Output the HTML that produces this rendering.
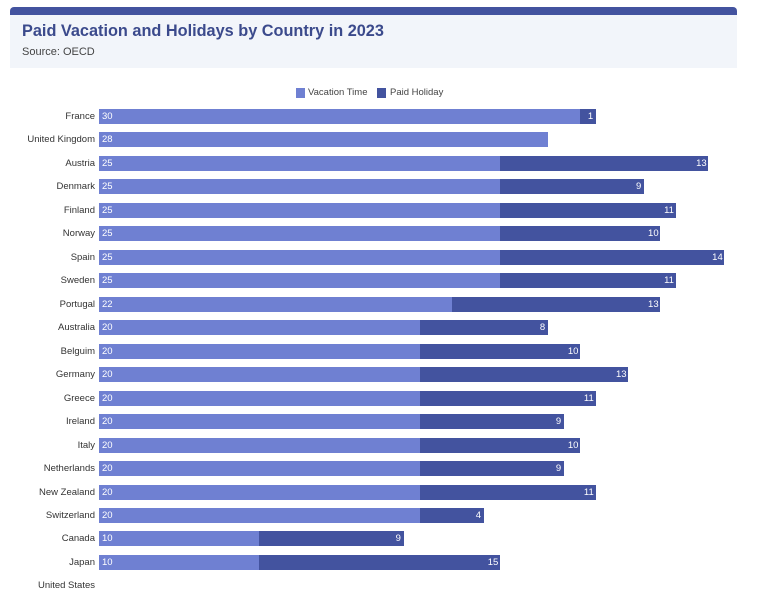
<!DOCTYPE html>
<html><head><style>
body{margin:0;width:768px;height:599px;background:#fff;font-family:"Liberation Sans",sans-serif;position:relative;overflow:hidden}
.a{position:absolute}
.lab{position:absolute;right:673px;font-size:9.5px;color:#333;white-space:nowrap;line-height:15px}
.v{position:absolute;height:15px;background:#6f80d2}
.h{position:absolute;height:15px;background:#43539f}
.n{position:absolute;color:#fff;font-size:9.5px;line-height:15px}
</style></head><body>
<div class="a" style="left:10px;top:7px;width:727px;height:61px;background:#f2f5fa;border-radius:4px 4px 0 0"></div>
<div class="a" style="left:10px;top:7px;width:727px;height:8px;background:#43539f;border-radius:4px 4px 0 0"></div>
<div class="a" style="left:22px;top:22px;font-size:16.3px;font-weight:bold;color:#3b4a8c">Paid Vacation and Holidays by Country in 2023</div>
<div class="a" style="left:22px;top:46px;font-size:11px;color:#444">Source: OECD</div>
<div class="a" style="left:296px;top:88px;width:9px;height:10px;background:#6f80d2"></div>
<div class="a" style="left:308px;top:87px;font-size:9.5px;color:#444">Vacation Time</div>
<div class="a" style="left:377px;top:88px;width:9px;height:10px;background:#43539f"></div>
<div class="a" style="left:390px;top:87px;font-size:9.5px;color:#444">Paid Holiday</div>
<div id="c"></div>
<script>
var d=[["France",30,1],["United Kingdom",28,0],["Austria",25,13],["Denmark",25,9],["Finland",25,11],["Norway",25,10],["Spain",25,14],["Sweden",25,11],["Portugal",22,13],["Australia",20,8],["Belguim",20,10],["Germany",20,13],["Greece",20,11],["Ireland",20,9],["Italy",20,10],["Netherlands",20,9],["New Zealand",20,11],["Switzerland",20,4],["Canada",10,9],["Japan",10,15],["United States",0,0]];
var s=16.03,x0=99,h="";
d.forEach(function(r,i){var y=109+i*23.47;
h+='<div class="lab" style="top:'+y+'px">'+r[0]+'</div>';
if(r[1]){h+='<div class="v" style="left:'+x0+'px;top:'+y+'px;width:'+(r[1]*s)+'px"></div><div class="n" style="left:'+(x0+3)+'px;top:'+y+'px">'+r[1]+'</div>';}
if(r[2]){var L=x0+r[1]*s,W=r[2]*s;h+='<div class="h" style="left:'+L+'px;top:'+y+'px;width:'+W+'px"></div><div class="n" style="left:'+(L+W-(r[2]>9?12:8))+'px;top:'+y+'px">'+r[2]+'</div>';}
});
document.getElementById("c").innerHTML=h;
</script>
</body></html>
